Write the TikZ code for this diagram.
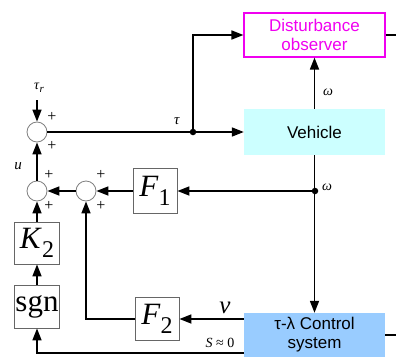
\documentclass[tikz,border=0pt]{standalone}
\usepackage{fontspec}
\setmainfont{Liberation Serif}
\newfontfamily\boxfont{Liberation Sans}
\usetikzlibrary{arrows.meta}
\definecolor{dmag}{HTML}{F000F0}
\definecolor{vcyan}{HTML}{CCFFFF}
\definecolor{cblue}{HTML}{99CCFF}
\newcommand{\blksub}[2]{\textit{#1}\raisebox{-0.3em}{\fontsize{24}{25}\selectfont #2}}
\begin{document}
\begin{tikzpicture}[x=1pt,y=-1pt,
  line/.style={line width=1.7pt},
  arr/.style={line width=1.7pt,-{Triangle[length=12pt,width=9pt]}},
  sumc/.style={circle,draw=gray,line width=0.8pt,fill=white,minimum size=20pt,inner sep=0pt},
  blk/.style={draw=gray!80!black,line width=0.8pt,fill=white,inner sep=0pt,font=\fontsize{31}{33}\selectfont},
  dotn/.style={circle,fill=black,minimum size=6.5pt,inner sep=0pt},
  bigbox/.style={minimum width=141pt,inner sep=0pt,align=center,font=\boxfont\fontsize{17}{19}\selectfont},
  lab/.style={inner sep=0pt,font=\fontsize{14}{15}\selectfont},
  plus/.style={inner sep=0pt,font=\fontsize{16}{17}\selectfont},
]
\useasboundingbox (0,0) rectangle (396,356);
\clip (0,0) rectangle (396,356);
% main boxes
\node[bigbox,draw=dmag,line width=1.2pt,text=dmag,minimum height=44pt] (dob) at (314.5,35) {Disturbance\\observer};
\node[bigbox,fill=vcyan,minimum height=46pt] (veh) at (314.5,132) {Vehicle};
\node[bigbox,fill=cblue,minimum height=44pt] (ctl) at (314.5,335) {τ-λ Control\\system};
% summing junctions
\node[sumc] (s1) at (37,132) {};
\node[sumc] (s2) at (37,191) {};
\node[sumc] (s3) at (86,191) {};
% blocks
\node[blk,minimum width=44pt,minimum height=45pt] (f1) at (155,191) {\blksub{F}{1}};
\node[blk,minimum width=45pt,minimum height=42pt] (k2) at (37,243) {\blksub{K}{2}};
\node[blk,minimum width=45pt,minimum height=43pt] (sg) at (37,306.5) {sgn};
\node[blk,minimum width=44pt,minimum height=43pt] (f2) at (157,319) {\blksub{F}{2}};
% dots and coordinates
\node[dotn] (td) at (193,132) {};
\node[dotn] (wd) at (315,191) {};
\coordinate (taur) at (37,100);
\coordinate (bl) at (37,353);
\coordinate (dobR) at (396,35);
\coordinate (ctlR) at (396,335);
% connectors
\draw[arr] (taur) -- (s1.north);
\draw[arr] (s1) -- (veh);
\draw[arr] (td.center) |- (dob.west);
\draw[arr] (veh.north) -- (dob.south);
\draw[arr] (veh.south) -- (ctl.north);
\draw[arr] (wd.center) -- (f1.east);
\draw[arr] (f1) -- (s3);
\draw[arr] (s3) -- (s2);
\draw[arr] (s2) -- (s1);
\draw[arr] (k2) -- (s2);
\draw[arr] (sg) -- (k2);
\draw[arr] (f2.east -| ctl.west) -- (f2.east);
\draw[arr] (f2.west) -| (s3.south);
\draw[arr] (bl -| ctl.west) -- (bl) -- (sg.south);
\draw[line] (dob.east) -- (dobR);
\draw[line] (ctlR -| ctl.east) -- (ctlR);
% labels
\node[lab] (ltr) at (39,88) {\textit{τ}\raisebox{-0.25em}{\fontsize{11}{12}\selectfont\textit{r}}};
\node[plus] (p1) at (52,117) {+};
\node[plus] (p2) at (52,146) {+};
\node[plus] (p3) at (49,175) {+};
\node[plus] (p4) at (49,206) {+};
\node[plus] (p5) at (101,175) {+};
\node[plus] (p6) at (101,206) {+};
\node[lab,font=\fontsize{15}{16}\selectfont] (lu) at (18,166) {\textit{u}};
\node[lab,font=\fontsize{15}{16}\selectfont] (ltau) at (177,121) {\textit{τ}};
\node[lab] (lw1) at (328,92) {\textit{ω}};
\node[lab] (lw2) at (327,187) {\textit{ω}};
\node[inner sep=0pt,font=\fontsize{25}{26}\selectfont] (lnu) at (225,308) {\textit{ν}};
\node[lab] (ls) at (220,343) {\textit{S} ≈ 0};
\end{tikzpicture}
\end{document}
